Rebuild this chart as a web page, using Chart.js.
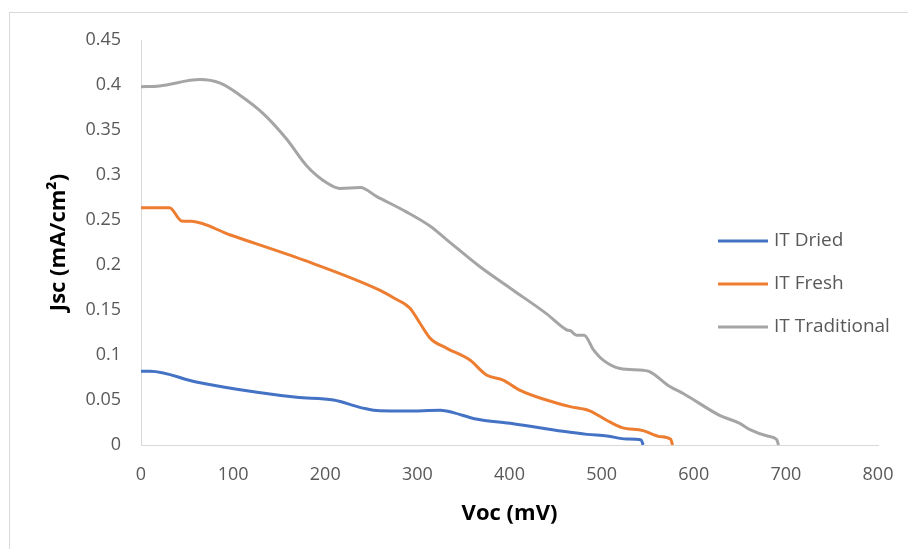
<!DOCTYPE html>
<html>
<head>
<meta charset="utf-8">
<script src="https://cdn.jsdelivr.net/npm/chart.js"></script>
<style>
    html, body { margin: 0; padding: 0; background: #fff; overflow: hidden; }
    #frame { position: absolute; left: 9px; top: 12px; width: 1000px; height: 1000px; border: 1px solid #d9d9d9; }
    #wrap { position: absolute; left: 0; top: 0; width: 908px; height: 549px; }
</style>
</head>
<body>
<div id="frame"></div>
<div id="wrap"><canvas id="chart-jv"></canvas></div>
<script>
// Voc (mV) / Jsc (mA/cm2)
const driedVoc = [0, 10, 60, 126, 169, 209, 241, 259, 288, 325, 339, 362, 404, 458, 484, 506, 527, 543, 545]
const driedJsc = [0.082, 0.082, 0.070, 0.0585, 0.053, 0.050, 0.041, 0.038, 0.0378, 0.0385, 0.036, 0.0292, 0.0237, 0.0152, 0.0118, 0.010, 0.0067, 0.0056, 0]

const freshVoc = [0, 31, 44, 55, 97, 176, 259, 275, 292, 303, 314, 332, 357, 375, 393, 411, 440, 466, 487, 505, 522, 545, 563, 575, 577]
const freshJsc = [0.2637, 0.2637, 0.249, 0.2485, 0.2333, 0.2056, 0.172, 0.163, 0.152, 0.135, 0.1185, 0.1074, 0.0944, 0.0778, 0.0722, 0.061, 0.050, 0.0426, 0.038, 0.0278, 0.0193, 0.016, 0.0093, 0.0063, 0]

const tradVoc = [0, 20, 64, 86, 107, 133, 158, 180, 202, 216, 238, 256, 288, 314, 332, 368, 404, 440, 462, 466, 473, 481, 491, 502, 520, 545, 552, 574, 589, 628, 650, 661, 680, 690, 692]
const tradJsc = [0.398, 0.399, 0.406, 0.402, 0.389, 0.368, 0.340, 0.310, 0.291, 0.285, 0.286, 0.276, 0.259, 0.243, 0.228, 0.198, 0.172, 0.146, 0.128, 0.127, 0.122, 0.122, 0.106, 0.094, 0.085, 0.083, 0.0815, 0.065, 0.057, 0.033, 0.024, 0.017, 0.010, 0.006, 0]

const seriesNames = ['IT Dried', 'IT Fresh', 'IT Traditional']
const seriesColors = ['#4472C4', '#ED7D31', '#A5A5A5']

const xTickLabels = ['0', '100', '200', '300', '400', '500', '600', '700', '800']
const yTickLabels = ['0', '0.05', '0.1', '0.15', '0.2', '0.25', '0.3', '0.35', '0.4', '0.45']

const toPoints = (xs, ys) => xs.map((x, i) => ({ x: x, y: ys[i] }))

const series = [
    toPoints(driedVoc, driedJsc),
    toPoints(freshVoc, freshJsc),
    toPoints(tradVoc, tradJsc)
]

// legend sits inside the plot, like the Excel one
const sideLegend = {
    id: 'sideLegend',
    afterDraw(chart) {
        const ctx = chart.ctx
        ctx.save()
        ctx.font = '19px "Open Sans"'
        ctx.textBaseline = 'middle'
        chart.data.datasets.forEach((ds, i) => {
            const y = 241 + i * 43
            ctx.strokeStyle = ds.borderColor
            ctx.lineWidth = 3
            ctx.beginPath()
            ctx.moveTo(718, y)
            ctx.lineTo(768, y)
            ctx.stroke()
            ctx.fillStyle = '#595959'
            ctx.fillText(ds.label, 774, y)
        })
        ctx.restore()
    }
}

const ctx = document.getElementById('chart-jv').getContext('2d')

const chart = new Chart(ctx, {
    type: 'line',
    data: {
        datasets: series.map((pts, i) => ({
            label: seriesNames[i],
            data: pts,
            borderColor: seriesColors[i],
            backgroundColor: seriesColors[i],
            borderWidth: 3,
            pointRadius: 0,
            cubicInterpolationMode: 'monotone',
            fill: false
        }))
    },
    options: {
        responsive: true,
        maintainAspectRatio: false,
        animation: false,
        layout: {
            padding: { left: 0, top: 40, right: 30, bottom: 0 }
        },
        plugins: {
            legend: { display: false },
            tooltip: { enabled: false }
        },
        scales: {
            x: {
                type: 'linear',
                min: 0,
                max: 800,
                grid: { display: false, drawTicks: false },
                border: { display: true, color: '#d9d9d9', width: 1 },
                ticks: {
                    stepSize: 100,
                    padding: 19,
                    color: '#595959',
                    font: { family: 'Open Sans', size: 18 },
                    maxRotation: 0,
                    callback: function (value, index) {
                        return xTickLabels[index]
                    }
                },
                title: {
                    display: true,
                    text: 'Voc (mV)',
                    color: '#000',
                    font: { family: 'Open Sans', size: 22, weight: 'bold' },
                    padding: { top: 0, bottom: 22 }
                },
                afterFit: function (scale) {
                    scale.height = 104
                    scale.paddingLeft = 0
                    scale.paddingRight = 0
                }
            },
            y: {
                min: 0,
                max: 0.45,
                grid: { display: false, drawTicks: false },
                border: { display: true, color: '#d9d9d9', width: 1 },
                ticks: {
                    stepSize: 0.05,
                    padding: 20,
                    color: '#595959',
                    font: { family: 'Open Sans', size: 18 },
                    callback: function (value, index) {
                        return yTickLabels[index]
                    }
                },
                title: {
                    display: true,
                    text: 'Jsc (mA/cm²)',
                    color: '#000',
                    font: { family: 'Open Sans', size: 22, weight: 'bold' },
                    padding: { top: 46, bottom: 0 }
                },
                afterFit: function (scale) {
                    scale.width = 141
                }
            }
        }
    },
    plugins: [sideLegend]
})
</script>
</body>
</html>
